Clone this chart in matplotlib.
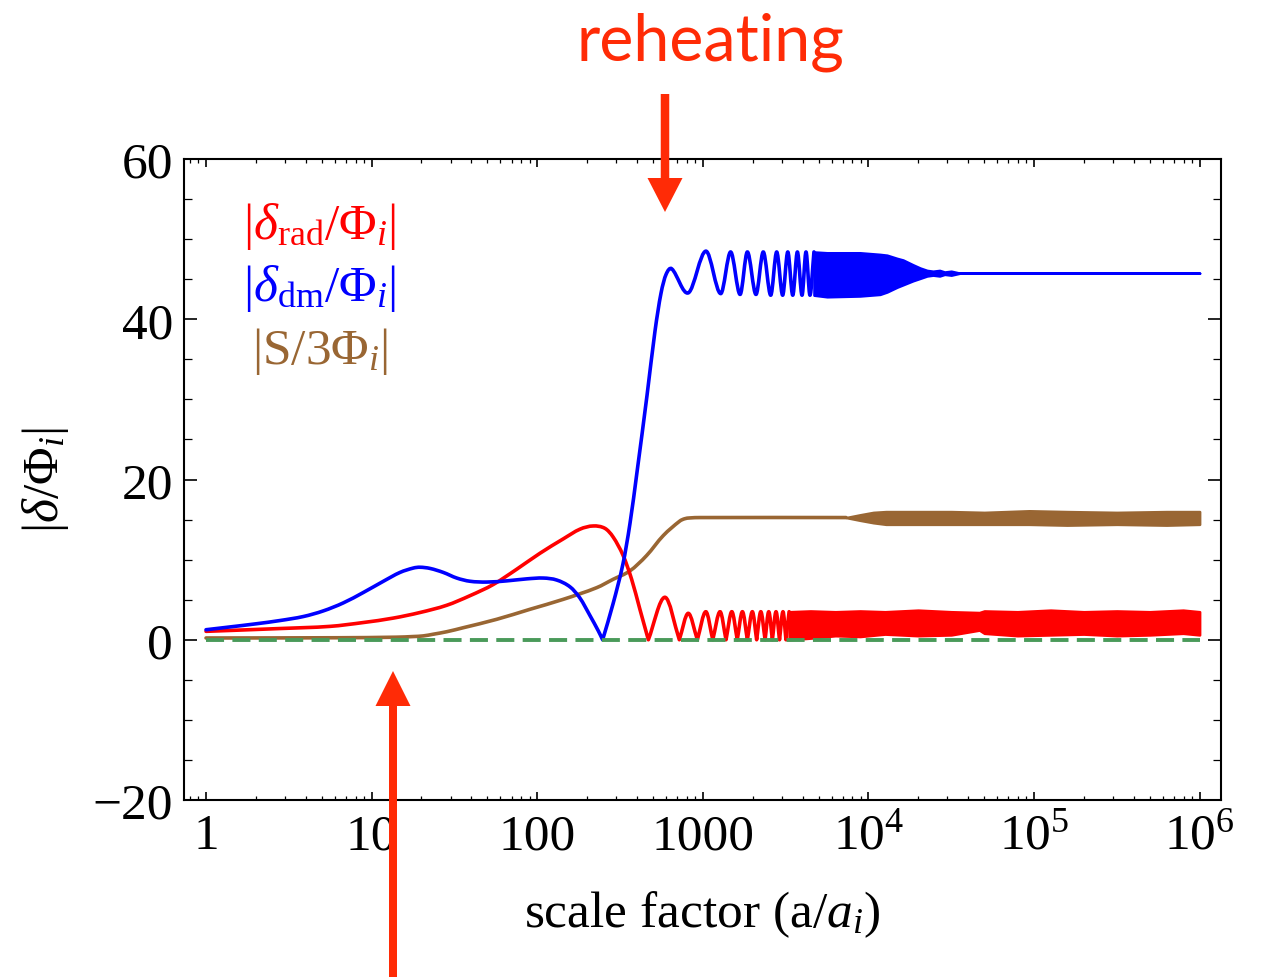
import numpy as np
import matplotlib
matplotlib.use("Agg")
import matplotlib.pyplot as plt
from matplotlib.patches import FancyArrow, PathPatch
from matplotlib.path import Path
from matplotlib.transforms import IdentityTransform
from matplotlib.ticker import FixedLocator, FixedFormatter, LogLocator, NullFormatter, MultipleLocator

plt.rcParams['font.family'] = ['Liberation Serif', 'DejaVu Serif']
plt.rcParams['mathtext.fontset'] = 'custom'
plt.rcParams['mathtext.rm'] = 'Liberation Serif'
plt.rcParams['mathtext.it'] = 'Liberation Serif:italic'
plt.rcParams['mathtext.bf'] = 'Liberation Serif:bold'
plt.rcParams['lines.scale_dashes'] = False

# ---------------- data (log10 of a/a_i, value) ----------------
dm_log_a = [0.0, 0.145, 0.306, 0.447, 0.588, 0.708, 0.829, 0.95, 1.071, 1.171, 1.252, 1.292,
            1.353, 1.433, 1.514, 1.594, 1.695, 1.816, 1.937, 2.037, 2.118, 2.198, 2.258,
            2.319, 2.369, 2.395,
            2.458, 2.518, 2.560, 2.603, 2.663, 2.711, 2.747, 2.778, 2.812, 2.913,
            3.019, 3.108, 3.168, 3.225, 3.269, 3.321,
            3.365, 3.410, 3.446, 3.482, 3.513, 3.543, 3.571, 3.599, 3.623, 3.647, 3.671]
dm_val = [1.25, 1.6, 2.0, 2.4, 2.9, 3.6, 4.6, 5.9, 7.3, 8.4, 8.95, 9.05,
          8.9, 8.4, 7.7, 7.3, 7.2, 7.35, 7.6, 7.7, 7.45, 6.6, 5.2,
          3.0, 1.1, 0.0,
          4.5, 9.5, 14.5, 21.0, 30.5, 38.5, 43.2, 45.6, 46.3, 43.3,
          48.5, 43.2, 48.4, 43.1, 48.4, 43.1,
          48.4, 43.0, 48.4, 43.0, 48.4, 43.0, 48.4, 43.0, 48.4, 43.0, 48.4]
dm_cusps = [2.395]
dm_band_log_a = [3.671, 3.75, 3.949, 4.070, 4.112, 4.173, 4.209, 4.269, 4.312, 4.354, 4.39,
                 4.43, 4.46, 4.50, 4.553, 6.0]
dm_band_hi = [48.4, 48.3, 48.3, 48.1, 48.0, 47.6, 47.4, 46.8, 46.4, 46.1, 46.0,
              46.1, 45.9, 46.0, 45.75, 45.75]
dm_band_lo = [43.0, 42.8, 42.9, 43.1, 43.4, 44.0, 44.3, 44.8, 45.1, 45.4, 45.5,
              45.4, 45.6, 45.5, 45.75, 45.75]

rad_log_a = [0.0, 0.447, 0.749, 0.95, 1.13, 1.292, 1.453, 1.594, 1.735, 1.876, 2.017, 2.158,
             2.258, 2.338, 2.409, 2.459, 2.519, 2.570, 2.620, 2.671,
             2.771, 2.858, 2.912, 2.967, 3.018, 3.060,
             3.104, 3.140, 3.175, 3.208, 3.239, 3.269, 3.299, 3.325, 3.350, 3.376, 3.398, 3.420,
             3.442, 3.463, 3.484, 3.502, 3.521]
rad_val = [1.05, 1.4, 1.67, 2.15, 2.7, 3.4, 4.3, 5.5, 6.9, 8.8, 10.8, 12.6,
           13.8, 14.2, 13.9, 12.8, 10.5, 7.55, 3.8, 0.0,
           5.3, 0.0, 3.3, 0.0, 3.5, 0.0,
           3.5, 0.0, 3.5, 0.0, 3.5, 0.0, 3.5, 0.0, 3.5, 0.0, 3.5, 0.0,
           3.5, 0.0, 3.5, 0.0, 3.5]
rad_cusps = [2.671, 2.858, 2.967, 3.060, 3.140, 3.208, 3.269, 3.325, 3.376, 3.420, 3.463, 3.502]
rad_band_log_a = [3.521, 3.65, 3.8, 3.95, 4.1, 4.3, 4.5, 4.67, 4.7, 4.9, 5.1, 5.3, 5.5, 5.7, 5.9, 6.0]
rad_band_hi = [3.5, 3.6, 3.5, 3.6, 3.5, 3.7, 3.5, 3.4, 3.6, 3.5, 3.7, 3.5, 3.6, 3.5, 3.7, 3.5]
rad_band_lo = [0.0, 0.2, 0.5, 0.4, 0.7, 0.5, 0.6, 1.2, 0.8, 0.5, 0.6, 0.7, 0.5, 0.6, 0.8, 0.6]

s_log_a = [0.0, 0.8, 1.15, 1.25, 1.312, 1.372, 1.453, 1.553, 1.755, 1.956, 2.158, 2.359, 2.459,
           2.56, 2.66, 2.761, 2.86, 2.89, 2.92, 2.983, 3.865]
s_val = [0.22, 0.25, 0.32, 0.4, 0.48, 0.69, 1.0, 1.5, 2.55, 3.8, 5.05, 6.5, 7.55,
         8.6, 10.5, 13.0, 14.8, 15.1, 15.2, 15.25, 15.25]
s_band_log_a = [3.865, 3.95, 4.03, 4.106, 4.3, 4.5, 4.7, 4.97, 5.2, 5.5, 5.8, 6.0]
s_band_hi = [15.25, 15.6, 15.9, 16.0, 16.0, 16.0, 15.9, 16.1, 16.0, 15.9, 16.0, 16.0]
s_band_lo = [15.25, 14.9, 14.6, 14.4, 14.4, 14.4, 14.4, 14.4, 14.3, 14.4, 14.3, 14.4]

zero_log_a = [0.0, 6.0]
zero_val = [0.0, 0.0]

xtick_vals = [1, 10, 100, 1000, 1e4, 1e5, 1e6]
xtick_labels = ["1", "10", "100", "1000", "$10^{4}$", "$10^{5}$", "$10^{6}$"]
ytick_vals = [-20, 0, 20, 40, 60]
ytick_labels = ["\u221220", "0", "20", "40", "60"]

legend_labels = [r"$|\delta_{\mathrm{rad}}/\Phi_i|$", r"$|\delta_{\mathrm{dm}}/\Phi_i|$",
                 r"$|\mathrm{S}/3\Phi_i|$"]

RED = "#ff0000"
BLUE = "#0000ff"
BROWN = "#996633"
GREEN = "#4a9a5a"
ANNOT = "#ff2b06"


def smooth_curve(ax, log_a, vals, cusps=(), **kw):
    """Draw a smooth (cubic Hermite / Bezier) curve through the read points,
    keeping sharp corners at the listed cusp positions."""
    lx = np.asarray(log_a, float)
    v = np.asarray(vals, float)
    cut = [i for i, x in enumerate(lx) if any(abs(x - c) < 1e-9 for c in cusps)]
    bounds = sorted(set([0] + cut + [len(lx) - 1]))
    verts, codes = [], []
    for a, b in zip(bounds[:-1], bounds[1:]):
        xs, ys = lx[a:b + 1], v[a:b + 1]
        n = len(xs)
        m = np.zeros(n)
        for i in range(n):
            if i == 0:
                m[i] = (ys[1] - ys[0]) / (xs[1] - xs[0])
            elif i == n - 1:
                m[i] = (ys[-1] - ys[-2]) / (xs[-1] - xs[-2])
            else:
                m[i] = (ys[i + 1] - ys[i - 1]) / (xs[i + 1] - xs[i - 1])
        if not verts:
            verts.append((xs[0], ys[0]))
            codes.append(Path.MOVETO)
        for i in range(n - 1):
            dx = xs[i + 1] - xs[i]
            verts += [(xs[i] + dx / 3, ys[i] + m[i] * dx / 3),
                      (xs[i + 1] - dx / 3, ys[i + 1] - m[i + 1] * dx / 3),
                      (xs[i + 1], ys[i + 1])]
            codes += [Path.CURVE4] * 3
    verts = np.array(verts)
    verts[:, 0] = 10 ** verts[:, 0]
    ax.add_patch(PathPatch(Path(verts, codes), fill=False, joinstyle="round",
                           capstyle="round", **kw))


# ---------------- figure ----------------
W, H = 1266, 978
fig = plt.figure(figsize=(W / 100, H / 100), dpi=100)
L, R, T, B = 184, 1221, 160, 801
ax = fig.add_axes([L / W, 1 - B / H, (R - L) / W, (B - T) / H])
ax.set_xscale("log")
ax.set_xlim(10 ** -0.133, 10 ** 6.129)
ax.set_ylim(-20, 60)

X = lambda v: 10 ** np.asarray(v, dtype=float)

lw = 2.6
smooth_curve(ax, s_log_a, s_val, edgecolor=BROWN, lw=lw, zorder=2)
ax.fill_between(X(s_band_log_a), s_band_lo, s_band_hi, color=BROWN, lw=1.8, zorder=2)
smooth_curve(ax, rad_log_a, rad_val, rad_cusps, edgecolor=RED, lw=lw, zorder=3)
ax.fill_between(X(rad_band_log_a), rad_band_lo, rad_band_hi, color=RED, lw=1.8, zorder=3)
smooth_curve(ax, dm_log_a, dm_val, dm_cusps, edgecolor=BLUE, lw=lw, zorder=4)
ax.fill_between(X(dm_band_log_a), dm_band_lo, dm_band_hi, color=BLUE, lw=1.8, zorder=4)
ax.plot(X(zero_log_a), zero_val, color=GREEN, lw=2.8, dashes=(13, 6), zorder=5)

# ticks
ax.xaxis.set_major_locator(FixedLocator(xtick_vals))
ax.xaxis.set_major_formatter(FixedFormatter(xtick_labels))
ax.xaxis.set_minor_locator(LogLocator(base=10, subs=np.arange(2, 10), numticks=20))
ax.xaxis.set_minor_formatter(NullFormatter())
ax.yaxis.set_major_locator(FixedLocator(ytick_vals))
ax.yaxis.set_major_formatter(FixedFormatter(ytick_labels))
ax.yaxis.set_minor_locator(MultipleLocator(5))
ax.tick_params(which="both", direction="in", top=True, right=True, labelsize=37, color="black")
ax.tick_params(axis="x", which="major", length=6, width=1.2, pad=9)
ax.tick_params(axis="x", which="minor", length=3, width=0.9)
ax.tick_params(axis="y", which="major", length=9.4, width=1.2, pad=8)
ax.tick_params(axis="y", which="minor", length=5.8, width=0.9)
for sp in ax.spines.values():
    sp.set_linewidth(1.5)

ax.set_xlabel("scale factor (a/$a_i$)", fontsize=37)
ax.xaxis.set_label_coords(0.5, -0.178)
ax.xaxis.label.set_va("center")
ax.set_ylabel(r"$|\delta/\Phi_i|$", fontsize=37)
ax.yaxis.set_label_coords(-0.134, 0.5)
ax.yaxis.label.set_va("center")

# legend text
for lab, col, yy in zip(legend_labels, [RED, BLUE, BROWN], [0.897, 0.799, 0.701]):
    ax.text(0.131, yy, lab, color=col, fontsize=37, ha="center", va="center", transform=ax.transAxes)

# annotations
fig.text(710 / W, 1 - 60 / H, "reheating", color=ANNOT, fontsize=46.5, family="Lato",
         ha="center", va="baseline")
fig.add_artist(FancyArrow(665, H - 95, 0, -(213 - 95), width=8.5, head_width=35, head_length=34,
                          length_includes_head=True, color=ANNOT, lw=0, transform=IdentityTransform()))
fig.add_artist(FancyArrow(393, 0, 0, H - 672, width=8, head_width=35, head_length=35,
                          length_includes_head=True, color=ANNOT, lw=0, transform=IdentityTransform()))

fig.savefig("out.png", dpi=100)
